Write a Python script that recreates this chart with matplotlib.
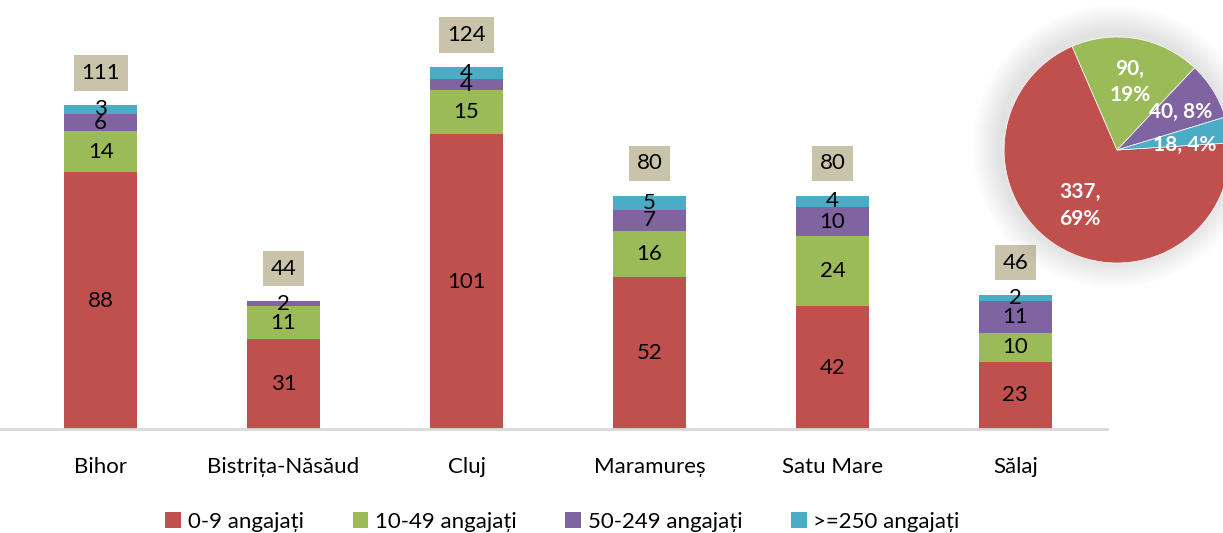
import matplotlib
matplotlib.use('Agg')
from matplotlib import pyplot as plt
from matplotlib.patches import Circle
import numpy as np

plt.rcParams['font.family'] = ['Lato', 'DejaVu Sans']

categories = ['Bihor', 'Bistrița-Năsăud', 'Cluj', 'Maramureș', 'Satu Mare', 'Sălaj']
series_names = ['0-9 angajați', '10-49 angajați', '50-249 angajați', '>=250 angajați']
micro = [88, 31, 101, 52, 42, 23]
small = [14, 11, 15, 16, 24, 10]
medium = [6, 2, 4, 7, 10, 11]
large = [3, 0, 4, 5, 4, 2]
totals = [111, 44, 124, 80, 80, 46]

pie_values = [337, 90, 40, 18]
pie_labels = ['337,\n69%', '90,\n19%', '40, 8%', '18, 4%']

colors = ['#C0504D', '#9BBB59', '#8064A2', '#4BACC6']

fig = plt.figure(figsize=(12.23, 5.33), dpi=100)
ax = fig.add_axes([0.0, 0.195, 0.905, 0.805])

x = np.arange(len(categories))
bottom = np.zeros(len(categories))
for vals, c, name in zip([micro, small, medium, large], colors, series_names):
    ax.bar(x, vals, 0.4, bottom=bottom, color=c, label=name)
    for xi, b, v in zip(x, bottom, vals):
        if v > 0:
            ax.text(xi, b + v / 2, str(v), ha='center', va='center', fontsize=16, color='black')
    bottom += np.array(vals)

for xi, t in zip(x, totals):
    ax.text(xi, t + 11, str(t), ha='center', va='center', fontsize=16,
            bbox=dict(boxstyle='square,pad=0.35', fc='#C9C3AA', ec='none'))

ax.set_xlim(-0.55, 5.5)
ax.set_ylim(0, 147)
ax.set_yticks([])
ax.set_xticks(x)
ax.set_xticklabels(categories, fontsize=16)
ax.tick_params(axis='x', length=0, pad=20)
for s in ['top', 'right', 'left']:
    ax.spines[s].set_visible(False)
ax.spines['bottom'].set_color('#D9D9D9')
ax.spines['bottom'].set_linewidth(2)

fig.legend(loc='lower center', bbox_to_anchor=(0.46, -0.035), ncol=4, frameon=False,
           fontsize=16, handlelength=0.7, handleheight=0.7, handletextpad=0.3,
           columnspacing=2.2)

# pie in the corner, with a soft shadow
pax = fig.add_axes([0.821, 0.5066, 0.1848, 0.424])
for i in range(10):
    r = 1.0 + 0.025 * (10 - i)
    pax.add_patch(Circle((-0.03, 0.03), r, color='gray', alpha=0.018, lw=0,
                         zorder=0, clip_on=False))
pax.pie(pie_values, colors=colors, startangle=3.6, counterclock=False,
        wedgeprops=dict(linewidth=0.5, edgecolor='white'))
label_pos = [(-0.33, -0.49), (0.115, 0.6), (0.56, 0.34), (0.6, 0.04)]
for (lx, ly), lab in zip(label_pos, pie_labels):
    pax.text(lx, ly, lab, ha='center', va='center', color='white', fontsize=15,
             fontweight='bold', linespacing=1.4)
pax.set_xlim(-1.0, 1.0)
pax.set_ylim(-1.0, 1.0)
pax.set_aspect('equal')
pax.axis('off')

fig.savefig('out.png', dpi=100)
